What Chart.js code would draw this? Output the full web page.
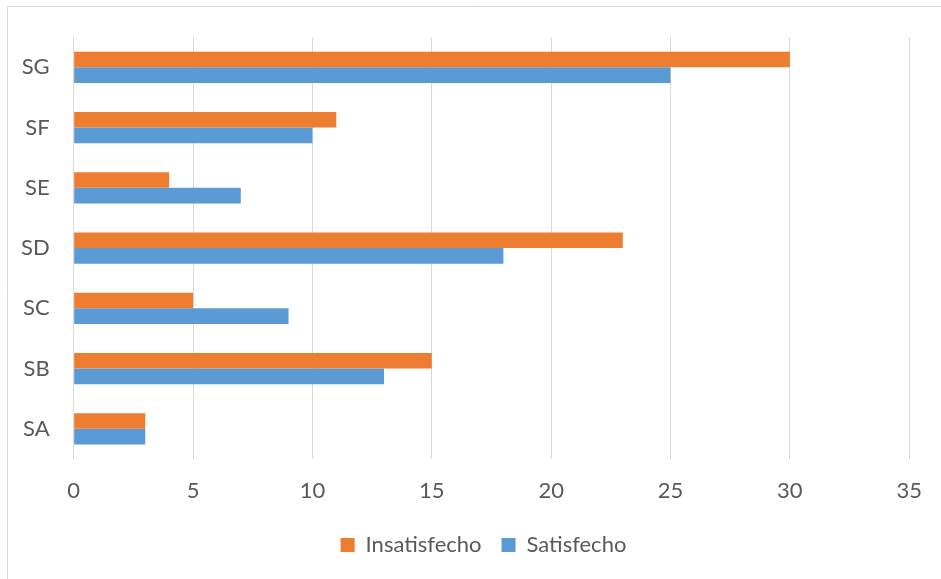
<!DOCTYPE html>
<html>
<head>
<meta charset="utf-8">
<script src="https://cdn.jsdelivr.net/npm/chart.js@4/dist/chart.umd.min.js"></script>
<style>
  html, body { margin: 0; padding: 0; background: #ffffff; }
  #wrap { position: relative; width: 941px; height: 579px; }
</style>
</head>
<body>
<div id="wrap"><canvas id="c" width="941" height="579"></canvas></div>
<script>
const categories = ['SG', 'SF', 'SE', 'SD', 'SC', 'SB', 'SA'];
const insatisfecho = [30, 11, 4, 23, 5, 15, 3];
const satisfecho = [25, 10, 7, 18, 9, 13, 3];
const seriesNames = ['Insatisfecho', 'Satisfecho'];
const xMin = 0, xMax = 35, xStep = 5;

const FONT = 'Lato, "Open Sans", sans-serif';
const TEXT = '#595959';
const GRID = '#d9d9d9';

const borderPlugin = {
  id: 'outerBorder',
  beforeDraw(chart) {
    const ctx = chart.ctx;
    ctx.save();
    ctx.strokeStyle = GRID;
    ctx.lineWidth = 1;
    ctx.beginPath();
    ctx.moveTo(7.5, 579);
    ctx.lineTo(7.5, 6.5);
    ctx.lineTo(941, 6.5);
    ctx.stroke();
    ctx.restore();
  }
};

// Shift legend to be centred on the full (wider) original chart frame
const legendShift = {
  id: 'legendShift',
  afterLayout(chart) {
    const d = 30;
    if (chart.legend) {
      chart.legend.left += d;
      chart.legend.right += d;
    }
  }
};

new Chart(document.getElementById('c'), {
  type: 'bar',
  data: {
    labels: categories,
    datasets: [
      { label: seriesNames[0], data: insatisfecho, backgroundColor: '#ED7D31', borderWidth: 0 },
      { label: seriesNames[1], data: satisfecho, backgroundColor: '#5B9BD5', borderWidth: 0 }
    ]
  },
  options: {
    indexAxis: 'y',
    responsive: false,
    animation: false,
    categoryPercentage: 0.52,
    barPercentage: 1.0,
    layout: { padding: { top: 35, left: -3, right: 31, bottom: 13 } },
    plugins: {
      tooltip: { enabled: false },
      legend: {
        position: 'bottom',
        labels: {
          color: TEXT,
          font: { family: FONT, size: 22 },
          boxWidth: 14,
          boxHeight: 14,
          padding: 20
        }
      }
    },
    scales: {
      x: {
        min: xMin, max: xMax,
        ticks: { stepSize: xStep, color: TEXT, font: { family: FONT, size: 22 }, padding: 19 },
        grid: { color: GRID, lineWidth: 1, drawTicks: false },
        border: { display: false },
        afterFit(scale) { scale.height = 55; }
      },
      y: {
        ticks: { color: TEXT, font: { family: FONT, size: 22 }, padding: 24 },
        grid: { display: false, drawTicks: false },
        border: { display: false }
      }
    }
  },
  plugins: [borderPlugin, legendShift]
});
</script>
</body>
</html>
